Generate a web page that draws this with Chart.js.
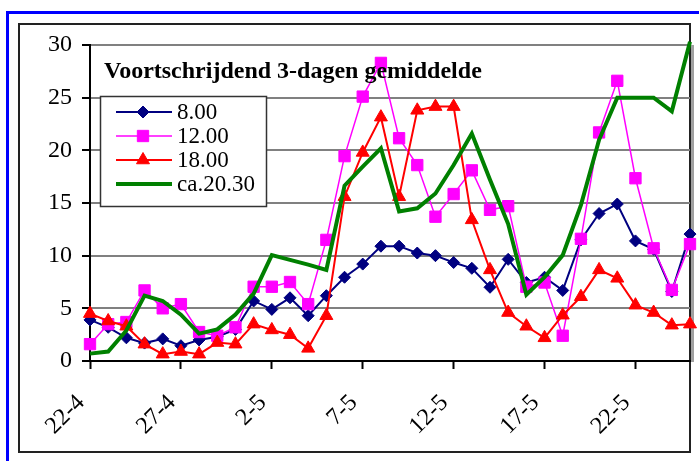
<!DOCTYPE html>
<html><head><meta charset="utf-8">
<script src="https://cdn.jsdelivr.net/npm/chart.js@4"></script>
<style>html,body{margin:0;padding:0;background:#fff;}canvas{display:block;}</style>
</head><body>
<canvas id="c" width="699" height="461"></canvas>
<script>
const categories = ['22-4','23-4','24-4','25-4','26-4','27-4','28-4','29-4','30-4','1-5','2-5','3-5','4-5','5-5','6-5','7-5','8-5','9-5','10-5','11-5','12-5','13-5','14-5','15-5','16-5','17-5','18-5','19-5','20-5','21-5','22-5','23-5','24-5','25-5'];
const tickLabels = ['22-4','27-4','2-5','7-5','12-5','17-5','22-5'];
const yTicks = [0,5,10,15,20,25,30];
const seriesNames = ['8.00','12.00','18.00','ca.20.30'];
const s0800 = [3.9,3.2,2.2,1.7,2.1,1.45,2.0,2.3,3.0,5.7,4.9,6.0,4.3,6.2,7.95,9.2,10.9,10.9,10.25,10.0,9.35,8.8,7.0,9.65,7.45,7.95,6.7,11.5,14.0,14.9,11.4,10.6,6.6,12.05];
const s1200 = [1.6,3.5,3.7,6.7,5.0,5.4,2.75,2.4,3.2,7.05,7.05,7.5,5.4,11.5,19.45,25.1,28.3,21.15,18.6,13.7,15.85,18.1,14.35,14.7,7.05,7.45,2.4,11.6,21.7,26.6,17.35,10.7,6.75,11.1];
const s1800 = [4.5,3.8,3.3,1.6,0.65,0.9,0.65,1.75,1.6,3.5,2.95,2.5,1.2,4.3,15.6,19.8,23.15,15.6,23.8,24.15,24.15,13.4,8.65,4.6,3.3,2.2,4.35,6.1,8.65,7.85,5.3,4.6,3.4,3.5];
const s2030 = [0.7,0.9,2.9,6.2,5.7,4.4,2.6,3.0,4.4,6.4,10.05,9.6,9.15,8.65,16.65,18.45,20.2,14.2,14.5,15.9,18.6,21.6,17.2,13.0,6.3,7.95,10.05,14.8,21.0,25.0,25.0,25.0,23.7,30.3];
const titleText = 'Voortschrijdend 3-dagen gemiddelde';

const SERIF = '"Liberation Serif", "Times New Roman", serif';

const decor = {
  id: 'decor',
  beforeDraw(chart) {
    const ctx = chart.ctx;
    ctx.save();
    ctx.fillStyle = '#fff';
    ctx.fillRect(0, 0, chart.width, chart.height);
    ctx.strokeStyle = '#0000ff';
    ctx.lineWidth = 3;
    ctx.beginPath();
    ctx.moveTo(7.5, 470); ctx.lineTo(7.5, 12.5); ctx.lineTo(720, 12.5);
    ctx.stroke();
    ctx.strokeStyle = '#222';
    ctx.lineWidth = 2;
    ctx.strokeRect(19, 24, 671, 428);
    const ca = chart.chartArea;
    ctx.fillStyle = '#a0a0a0';
    ctx.fillRect(691, ca.top, 3, ca.bottom - ca.top + 1);
    ctx.restore();
  },
  afterDraw(chart) {
    const ctx = chart.ctx;
    const H = Chart.helpers;
    ctx.save();
    ctx.fillStyle = '#000';
    ctx.font = 'bold 24px ' + SERIF;
    ctx.textBaseline = 'alphabetic';
    ctx.textAlign = 'left';
    ctx.fillText(titleText, 104, 78);
    ctx.fillStyle = '#fff';
    ctx.fillRect(100, 96, 166, 110);
    ctx.strokeStyle = '#333';
    ctx.lineWidth = 1.5;
    ctx.strokeRect(100.5, 96.5, 166, 110);
    const ys = [112, 136, 160, 184];
    chart.data.datasets.forEach((ds, i) => {
      const y = ys[i];
      ctx.strokeStyle = ds.borderColor;
      ctx.lineWidth = ds.borderWidth;
      ctx.beginPath();
      ctx.moveTo(116, y); ctx.lineTo(172, y);
      ctx.stroke();
      if (ds.pointRadius > 0) {
        ctx.fillStyle = ds.pointBackgroundColor;
        ctx.strokeStyle = ds.pointBorderColor;
        ctx.lineWidth = ds.pointBorderWidth;
        H.drawPoint(ctx, {pointStyle: ds.pointStyle, radius: ds.pointRadius, borderWidth: ds.pointBorderWidth, rotation: 0}, 143, y);
      }
      ctx.fillStyle = '#000';
      ctx.font = '23px ' + SERIF;
      ctx.textBaseline = 'middle';
      ctx.fillText(ds.label, 177, y + 1);
    });
    ctx.restore();
  }
};

const mk = (label, data, color, width, style, radius) => ({
  label, data,
  borderColor: color, backgroundColor: color,
  borderWidth: width,
  pointStyle: style || 'circle',
  pointRadius: radius || 0,
  pointHoverRadius: radius || 0,
  pointBackgroundColor: color,
  pointBorderColor: color,
  pointBorderWidth: 1,
  tension: 0,
  fill: false,
  clip: false
});

const datasets = [
  mk(seriesNames[0], s0800, '#000080', 2, 'rectRot', 6),
  mk(seriesNames[1], s1200, '#ff00ff', 1.5, 'rect', 8),
  mk(seriesNames[2], s1800, '#ff0000', 2, 'triangle', 7.5),
  mk(seriesNames[3], s2030, '#008000', 4, false, 0)
];
datasets.forEach((d, i) => { d.order = datasets.length - i; });

new Chart(document.getElementById('c'), {
  type: 'line',
  data: { labels: categories, datasets },
  options: {
    responsive: false,
    animation: false,
    devicePixelRatio: 1,
    layout: { padding: { left: 0, top: 45, right: 8, bottom: 0 } },
    plugins: { legend: { display: false }, title: { display: false }, tooltip: { enabled: false } },
    scales: {
      x: {
        type: 'category',
        offset: false,
        afterFit: s => { s.height = 100; },
        grid: { drawOnChartArea: false, drawTicks: true, tickLength: 8, tickColor: '#000', tickWidth: 2 },
        border: { color: '#000', width: 2 },
        ticks: {
          autoSkip: false, maxRotation: 45, minRotation: 45, padding: 20, labelOffset: -9,
          color: '#000',
          font: { family: SERIF, size: 24 },
          callback: function(v, i) { const l = categories[i]; return tickLabels.includes(l) ? l : null; }
        }
      },
      y: {
        min: 0, max: 30,
        afterFit: s => { s.width = 90; },
        afterBuildTicks: s => { s.ticks = yTicks.map(v => ({ value: v })); },
        grid: { color: '#808080', lineWidth: 2, tickColor: '#000', tickWidth: 2, tickLength: 8 },
        border: { color: '#000', width: 2 },
        ticks: { color: '#000', padding: 10, font: { family: SERIF, size: 24 } }
      }
    }
  },
  plugins: [decor]
});
</script>
</body></html>
